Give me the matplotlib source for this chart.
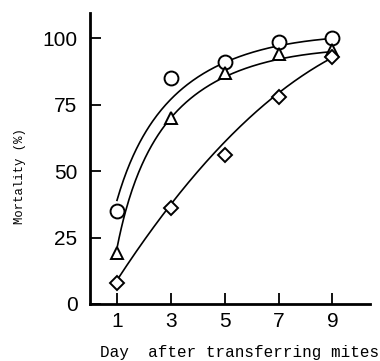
import numpy as np
import matplotlib.pyplot as plt

days = [1, 3, 5, 7, 9]
circle_vals = [35, 85, 91, 98.5, 100]
triangle_vals = [19, 70, 87, 94, 95.5]
diamond_vals = [8, 36, 56, 78, 93]

# hand-fitted curves as drawn in the figure (value of each curve at each day)
circle_curve = [39, 77, 91, 97, 100]
triangle_curve = [21, 70, 85.5, 92, 95]
diamond_curve = [9, 37, 62, 78.5, 93]

xticks = [1, 3, 5, 7, 9]
yticks = [0, 25, 50, 75, 100]


def smooth(x, y, t, log=True, deg=3):
    x = np.asarray(x, float)
    if log:
        c = np.polyfit(np.log(x), y, deg)
        return np.polyval(c, np.log(t))
    c = np.polyfit(x, y, deg)
    return np.polyval(c, t)


fig = plt.figure(figsize=(3.8, 3.61), dpi=100)
ax = fig.add_axes([0.237, 0.158, 0.737, 0.806])

t = np.linspace(1, 9, 200)
series = [
    (circle_vals, circle_curve, 'o', 10, True),
    (triangle_vals, triangle_curve, '^', 9, True),
    (diamond_vals, diamond_curve, 'D', 7, False),
]
for vals, curve, mk, ms, lg in series:
    ax.plot(t, smooth(days, curve, t, log=lg, deg=3 if lg else 2),
            color='black', lw=1.2)
    ax.plot(days, vals, mk, ms=ms, mfc='white', mec='black', mew=1.4,
            linestyle='none', zorder=3)

ax.set_xlim(0, 10.4)
ax.set_ylim(0, 109.5)
ax.set_xticks(xticks)
ax.set_yticks(yticks)
ax.spines['top'].set_visible(False)
ax.spines['right'].set_visible(False)
ax.spines['left'].set_linewidth(2)
ax.spines['bottom'].set_linewidth(2)
ax.tick_params(direction='in', length=8, width=1.3, labelsize=15)
ax.tick_params(axis='y', pad=9)
ax.tick_params(axis='x', pad=6)
for lab in ax.get_xticklabels() + ax.get_yticklabels():
    lab.set_family('Liberation Sans')

ax.set_xlabel('Day  after transferring mites', family='Liberation Mono',
              fontsize=11.5, labelpad=10)
ax.xaxis.label.set_x(0.535)
ax.set_ylabel('Mortality (%)', family='Liberation Mono', fontsize=8.8,
              labelpad=12)
ax.yaxis.label.set_y(0.44)

fig.savefig('out.png', dpi=100)
